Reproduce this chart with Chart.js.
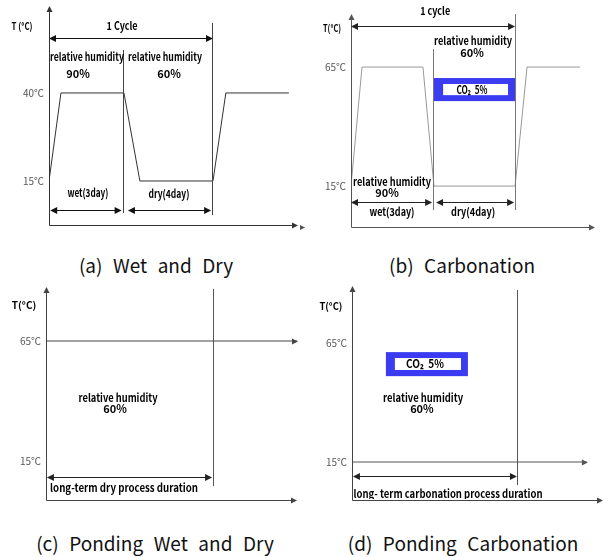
<!DOCTYPE html>
<html>
<head>
<meta charset="utf-8">
<script src="https://cdn.jsdelivr.net/npm/chart.js"></script>
<style>
  body { margin: 0; background: #fff; width: 608px; height: 557px; position: relative; overflow: hidden; }
  canvas { position: absolute; }
  .cap { position: absolute; font: 19px "Noto Sans CJK KR", "Noto Sans", sans-serif; color: #111;
         white-space: pre; word-spacing: 1px; transform: translate(-50%, -50%); }
</style>
</head>
<body>
<canvas id="chartA" width="300" height="240" style="left:0;top:0"></canvas>
<canvas id="chartB" width="308" height="240" style="left:300px;top:0"></canvas>
<canvas id="chartC" width="300" height="230" style="left:0;top:280px"></canvas>
<canvas id="chartD" width="308" height="230" style="left:300px;top:280px"></canvas>
<div class="cap" style="left:156px;top:264px">(a)  Wet  and  Dry</div>
<div class="cap" style="left:462px;top:264px">(b)  Carbonation</div>
<div class="cap" style="left:155px;top:542px">(c)  Ponding  Wet  and  Dry</div>
<div class="cap" style="left:463px;top:542px">(d)  Ponding  Carbonation</div>
<script>
// time in days, temperature in degC

// (a) wet and dry cycle
const wetDryDays = [0, 0.51, 3.2, 3.88, 7, 7.55, 10.24];
const wetDryTemp = [15, 40, 40, 15, 15, 40, 40];
const wetDryTicks = [15, 40];

// (b) carbonation cycle
const carbDays = [0, 0.47, 3.07, 3.54, 7, 7.51, 9.77];
const carbTemp = [15, 65, 65, 15, 15, 65, 65];
const carbTicks = [15, 65];

// (c) ponding wet and dry - held at 65
const pondDryDays = [0, 10.52];
const pondDryTemp = [65, 65];

// (d) ponding carbonation - held at 15
const pondCarbDays = [0, 9.91];
const pondCarbTemp = [15, 15];
const pondTicks = [15, 65];

const FONT = '"Noto Sans CJK KR", "Noto Sans", sans-serif';

function crisp(v) { return Math.round(v - 0.5) + 0.5; }

function head(ctx, x, y, dir, len, half) {
  len = len || 7; half = half || 3.5;
  ctx.beginPath();
  if (dir === 'up') { ctx.moveTo(x, y); ctx.lineTo(x - half, y + len); ctx.lineTo(x + half, y + len); }
  if (dir === 'right') { ctx.moveTo(x, y); ctx.lineTo(x - len, y - half); ctx.lineTo(x - len, y + half); }
  if (dir === 'left') { ctx.moveTo(x, y); ctx.lineTo(x + len, y - half); ctx.lineTo(x + len, y + half); }
  ctx.closePath();
  ctx.fill();
}

function seg(ctx, x0, y0, x1, y1) {
  ctx.beginPath(); ctx.moveTo(x0, y0); ctx.lineTo(x1, y1); ctx.stroke();
}

// axes, arrows, boxes and labels, all placed through the chart scales
const decor = {
  id: 'decor',
  afterDatasetsDraw(chart, args, o) {
    const { ctx, chartArea: a } = chart;
    const px = v => chart.scales.x.getPixelForValue(v);
    const py = v => chart.scales.y.getPixelForValue(v);
    ctx.save();
    ctx.lineWidth = 1;

    // boxes first
    (o.boxes || []).forEach(b => {
      ctx.fillStyle = b.color;
      ctx.fillRect(px(b.x0), py(b.y1), px(b.x1) - px(b.x0), py(b.y0) - py(b.y1));
    });

    // axes
    ctx.strokeStyle = o.axisColor; ctx.fillStyle = o.axisColor;
    const ax = crisp(a.left), ay = crisp(a.bottom);
    seg(ctx, ax, ay, ax, a.top + 4);
    head(ctx, ax, a.top, 'up', 6, 3);
    seg(ctx, ax, ay, a.right - 4, ay);
    head(ctx, a.right, ay, 'right', 6, 3);

    // verticals
    ctx.strokeStyle = o.vColor;
    (o.vlines || []).forEach(v => seg(ctx, crisp(px(v.x)), py(v.y0), crisp(px(v.x)), py(v.y1)));

    // double-headed spans
    ctx.strokeStyle = o.spanColor; ctx.fillStyle = o.spanColor;
    (o.spans || []).forEach(s => {
      const y = crisp(py(s.y)), x0 = px(s.x0), x1 = px(s.x1);
      seg(ctx, x0 + 3, y, x1 - 3, y);
      head(ctx, x0, y, 'left', 7, 3.5);
      head(ctx, x1, y, 'right', 7, 3.5);
    });

    // arrow tip at the end of the data line
    if (o.endArrow) {
      const d = chart.data.datasets[0].data;
      const last = d[d.length - 1];
      ctx.fillStyle = o.lineColor;
      head(ctx, px(last.x) + 1, crisp(py(last.y)), 'right', 6, 3);
    }
    (o.heads || []).forEach(h => {
      ctx.fillStyle = o.axisColor;
      head(ctx, px(h.x), crisp(py(h.y)), h.dir, 6, 3);
    });

    // labels
    ctx.textAlign = 'center'; ctx.textBaseline = 'middle';
    (o.texts || []).forEach(t => {
      ctx.save();
      if (t.clip) { ctx.beginPath(); ctx.rect(0, 0, chart.width, a.bottom - 1); ctx.clip(); }
      ctx.fillStyle = t.color || '#000';
      ctx.font = 'bold ' + (t.size || 11) + 'px ' + FONT;
      if (t.w) ctx.fillText(t.t, px(t.x), py(t.y), t.w);
      else ctx.fillText(t.t, px(t.x), py(t.y));
      ctx.restore();
    });
    ctx.restore();
  }
};

function makeChart(id, days, temps, c) {
  return new Chart(document.getElementById(id), {
    type: 'line',
    data: {
      datasets: [{
        data: days.map((d, i) => ({ x: d, y: temps[i] })),
        borderColor: c.lineColor, borderWidth: 1, pointRadius: 0, tension: 0, fill: false
      }]
    },
    options: {
      responsive: false, animation: false, events: [],
      layout: { padding: Object.assign({}, c.pad, { left: 0 }) },
      plugins: {
        legend: { display: false }, tooltip: { enabled: false },
        decor: Object.assign({ lineColor: c.lineColor }, c.decor)
      },
      scales: {
        x: { type: 'linear', display: false, min: 0, max: c.xMax },
        y: {
          type: 'linear', min: c.yMin, max: c.yMax,
          grid: { display: false, drawTicks: false }, border: { display: false },
          afterBuildTicks: s => { s.ticks = c.ticks.map(v => ({ value: v })); },
          // the y scale box fills exactly the space left of the axis line
          afterFit: s => { s.width = c.pad.left; s.paddingTop = 0; s.paddingBottom = 0; },
          ticks: { padding: 5, color: '#555', font: { family: FONT, size: 10 }, callback: v => v + '℃' }
        }
      }
    },
    plugins: [decor]
  });
}

makeChart('chartA', wetDryDays, wetDryTemp, {
  lineColor: '#333', pad: { left: 49, right: 2, top: 6, bottom: 15 },
  xMax: 10.63, yMin: 2.5, yMax: 64.7, ticks: wetDryTicks,
  decor: {
    axisColor: '#333', vColor: '#444', spanColor: '#111',
    vlines: [{ x: 3.2, y0: 5.9, y1: 52.2 }, { x: 7, y0: 5.3, y1: 59.9 }],
    spans: [{ y: 55.6, x0: 0, x1: 7 }, { y: 6.5, x0: 0.05, x1: 3.1 }, { y: 6.5, x0: 3.37, x1: 6.92 }],
    texts: [
      { t: 'T (°C)', x: -1.15, y: 59.0, w: 21, size: 10 },
      { t: '1 Cycle', x: 3.12, y: 59.0, w: 31 },
      { t: 'relative humidity', x: 1.62, y: 50.2, w: 74 },
      { t: 'relative humidity', x: 4.95, y: 50.2, w: 74 },
      { t: '90%', x: 1.24, y: 45.4 },
      { t: '60%', x: 5.12, y: 45.4 },
      { t: 'wet(3day)', x: 1.66, y: 11.6, w: 41 },
      { t: 'dry(4day)', x: 5.12, y: 11.3, w: 41 }
    ]
  }
});

makeChart('chartB', carbDays, carbTemp, {
  lineColor: '#999', pad: { left: 51, right: 13, top: 14, bottom: 13 },
  xMax: 10.41, yMin: -2.2, yMax: 87.3, ticks: carbTicks,
  decor: {
    axisColor: '#555', vColor: '#777', spanColor: '#222',
    vlines: [{ x: 3.54, y0: 4.9, y1: 72.6 }, { x: 7, y0: 4.9, y1: 87.3 }],
    spans: [{ y: 82.2, x0: 0, x1: 7 }, { y: 8.3, x0: 0, x1: 3.46 }, { y: 8.3, x0: 3.63, x1: 6.96 }],
    boxes: [{ x0: 3.54, x1: 7, y0: 50.7, y1: 60.4, color: '#3b3bf2' },
            { x0: 3.93, x1: 6.7, y0: 53.2, y1: 57.9, color: '#fff' }],
    heads: [{ x: -1.96, y: -2.2, dir: 'right' }],
    texts: [
      { t: 'T(°C)', x: -0.81, y: 81.4, w: 18, size: 10 },
      { t: '1 cycle', x: 3.59, y: 88.5, w: 30 },
      { t: 'relative humidity', x: 5.21, y: 75.9, w: 78 },
      { t: '60%', x: 5.16, y: 70.9 },
      { t: 'CO₂  5%', x: 5.16, y: 55.3, w: 31 },
      { t: 'relative humidity', x: 1.75, y: 16.7, w: 78 },
      { t: '90%', x: 1.54, y: 12.1 },
      { t: 'wet(3day)', x: 1.75, y: 4.1, w: 45 },
      { t: 'dry(4day)', x: 5.21, y: 4.1, w: 44 }
    ]
  }
});

makeChart('chartC', pondDryDays, pondDryTemp, {
  lineColor: '#444', pad: { left: 46, right: 3, top: 7, bottom: 10 },
  xMax: 10.52, yMin: -1.25, yMax: 87.5, ticks: pondTicks,
  decor: {
    axisColor: '#444', vColor: '#555', spanColor: '#222', endArrow: true,
    vlines: [{ x: 7, y0: 4.6, y1: 86.7 }],
    spans: [{ y: 8.3, x0: 0.04, x1: 6.96 }],
    texts: [
      { t: 'T(°C)', x: -0.92, y: 80, w: 25, size: 10 },
      { t: 'relative humidity', x: 3.02, y: 41.25, w: 79 },
      { t: '60%', x: 2.89, y: 36.7 },
      { t: 'long-term dry process duration', x: 3.27, y: 3.75, w: 148 }
    ]
  }
});

makeChart('chartD', pondCarbDays, pondCarbTemp, {
  lineColor: '#555', pad: { left: 52, right: 5, top: 6, bottom: 10 },
  xMax: 10.59, yMin: -0.97, yMax: 89, ticks: pondTicks,
  decor: {
    axisColor: '#444', vColor: '#555', spanColor: '#222', endArrow: true,
    vlines: [{ x: 7, y0: 5.3, y1: 87.3 }],
    spans: [{ y: 8.7, x0: 0.04, x1: 6.96 }],
    boxes: [{ x0: 1.43, x1: 4.89, y0: 51.1, y1: 61.2, color: '#3b3bf2' },
            { x0: 1.81, x1: 4.6, y0: 53.7, y1: 58.7, color: '#fff' }],
    texts: [
      { t: 'T(°C)', x: -0.89, y: 80.5, w: 23, size: 10 },
      { t: 'CO₂  5%', x: 3.08, y: 56.2, w: 38 },
      { t: 'relative humidity', x: 3.0, y: 41.9, w: 80 },
      { t: '60%', x: 2.95, y: 37.3 },
      { t: 'long- term carbonation process duration', x: 4.05, y: 1.5, w: 189, clip: true }
    ]
  }
});
</script>
</body>
</html>
